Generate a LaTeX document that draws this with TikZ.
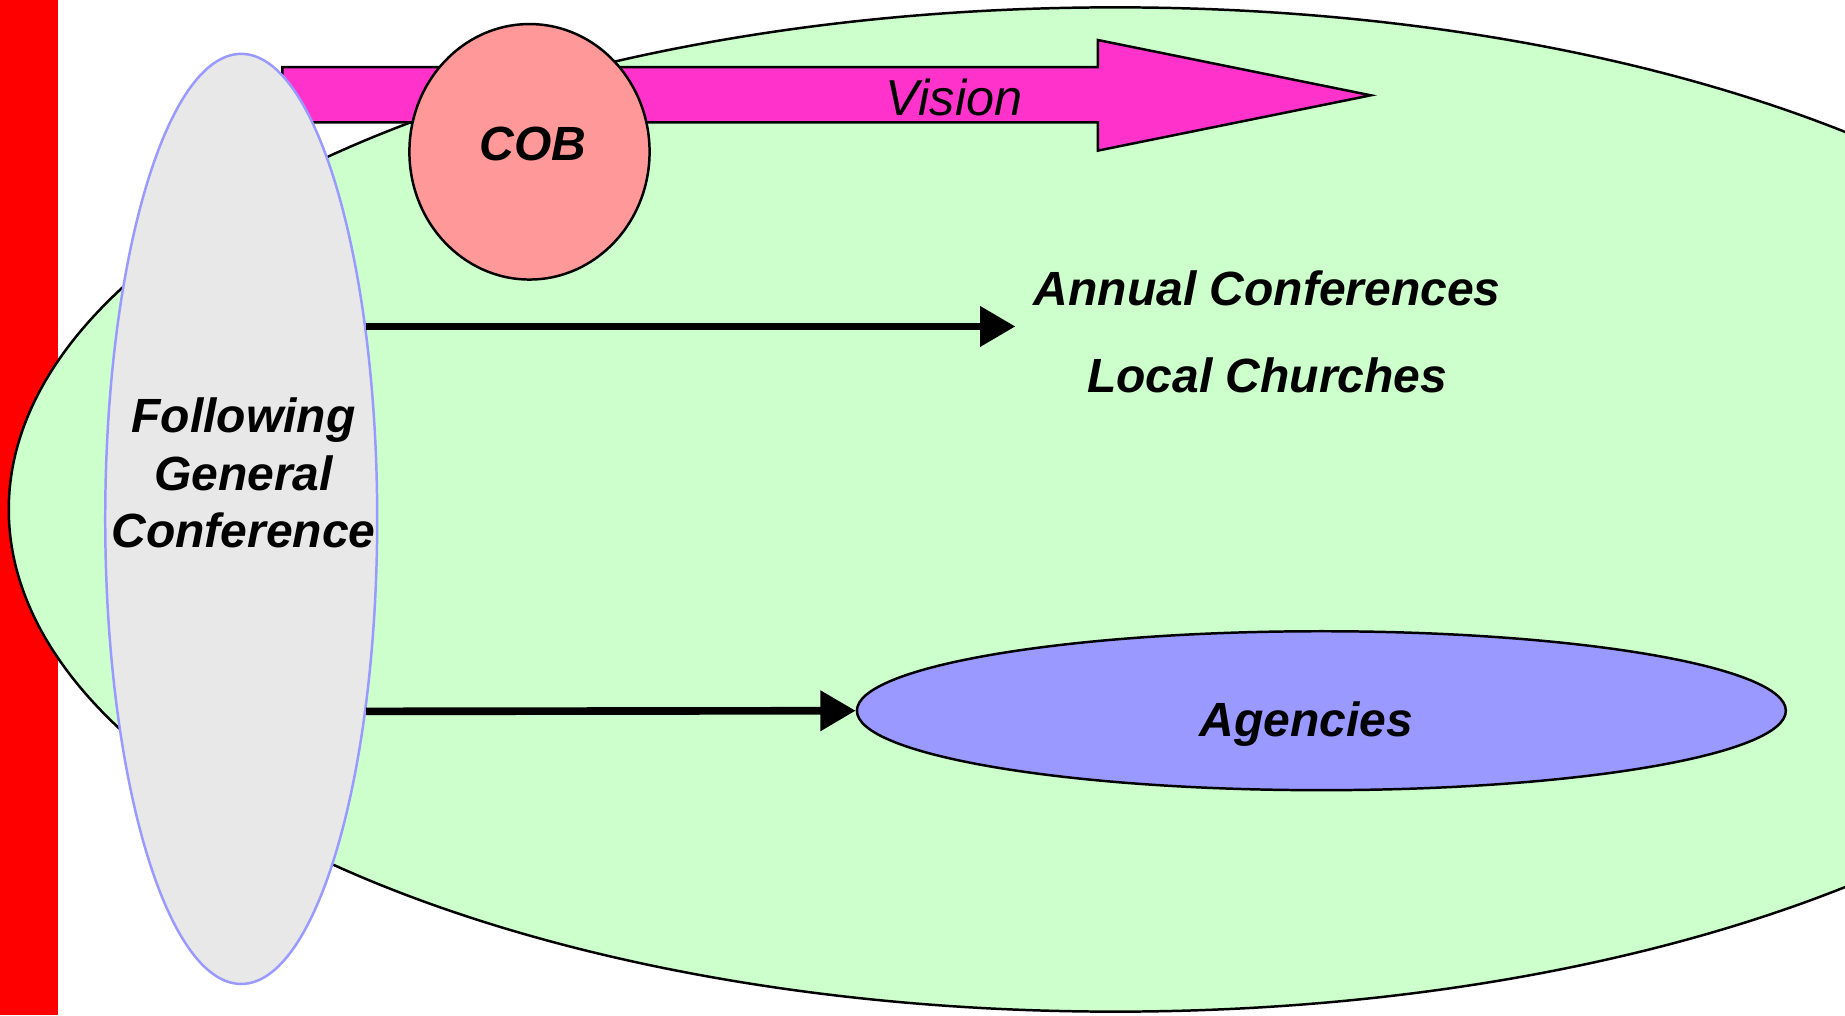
\documentclass[tikz,border=0pt]{standalone}
\usepackage{fontspec}
\setmainfont{Liberation Sans}
\usetikzlibrary{positioning,shapes.geometric,arrows.meta}

\definecolor{barred}{HTML}{FF0000}
\definecolor{fieldgreen}{HTML}{CCFFCC}
\definecolor{gcgray}{HTML}{E8E8E8}
\definecolor{gcblue}{HTML}{9999FF}
\definecolor{cobpink}{HTML}{FF9999}
\definecolor{visionpink}{HTML}{FF33CC}
\definecolor{agencyblue}{HTML}{9999FF}

\begin{document}
\begin{tikzpicture}[
                x=0.01cm, y=-0.01cm,
                oval/.style={ellipse, draw=black, line width=0.6pt, inner sep=0pt},
                label text/.style={font=\fontsize{11.6}{13.9}\selectfont\bfseries\itshape, align=center},
                arrow/.style={line width=0.065cm, ->, >={Triangle[length=0.3cm, width=0.33cm]}}
            ]
                \useasboundingbox (0,0) rectangle (1568,863);
                \clip (0,0) rectangle (1568,863);
                \fill[barred] (0,0) rectangle (49,863);

                % outer field
                \node[oval, fill=fieldgreen, minimum width=18.8cm, minimum height=8.53cm] (field) at (948,433) {};

                % vision arrow
                \draw[line width=0.6pt, fill=visionpink] (240,57) -- (933,57) -- (933,34) -- (1165,81)
                    -- (933,128) -- (933,104) -- (240,104) -- cycle;
                \node[font=\fontsize{12.2}{14}\selectfont\itshape] (vision) at (811,83) {Vision};

                \node[ellipse, draw=gcblue, line width=0.6pt, fill=gcgray, minimum width=2.31cm, minimum height=7.9cm] (gc) at (205,441) {};
                \node[label text] (gctext) at (207,402) {Following\\General\\Conference};

                \node[oval, fill=cobpink, minimum width=2.04cm, minimum height=2.17cm] (cob) at (450,129) {};
                \node[label text] (cobtext) at ([shift={(3,-7)}]cob.center) {COB};

                \node[oval, fill=agencyblue, minimum width=7.89cm, minimum height=1.35cm] (agencies) at (1123,604) {};
                \node[label text] (agtext) at ([shift={(-13,11)}]agencies.center) {Agencies};

                \node[label text, font=\fontsize{11.6}{20.8}\selectfont\bfseries\itshape, inner sep=0.15cm] (units) at (1077,282) {Annual Conferences\\Local Churches};

                \draw[arrow] (gc.57) -- (gc.57 -| units.west);
                \draw[arrow] (gc.-57) -- (agencies.west);
            \end{tikzpicture}
\end{document}
